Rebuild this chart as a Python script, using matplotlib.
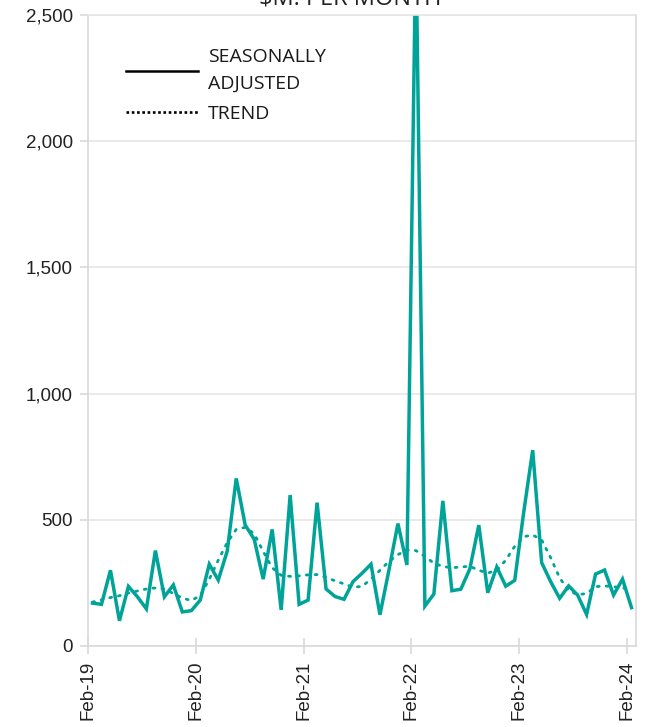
#!/usr/bin/env python3

import matplotlib.pyplot as plt
from matplotlib.lines import Line2D
import numpy as np

tick_labels = ['Feb-19', 'Feb-20', 'Feb-21', 'Feb-22', 'Feb-23', 'Feb-24']

# $M per month, monthly Feb-19 .. Feb-24
seasonally_adjusted = [
    170, 165, 300, 100, 236, 195, 147, 378, 195, 242, 135, 140,
    182, 324, 261, 376, 664, 479, 423, 265, 462, 143, 598, 165,
    182, 568, 226, 196, 185, 255, 288, 324, 124, 301, 485, 321,
    2800, 158, 206, 575, 219, 225, 305, 479, 211, 313, 237, 260,
    530, 776, 330, 255, 189, 238, 202, 125, 285, 301, 202, 265,
    152,
]

trend = [
    174, 183, 192, 199, 210, 218, 226, 230, 226, 208, 190, 180,
    200, 265, 340, 410, 462, 470, 445, 375, 310, 280, 276, 278,
    282, 283, 272, 258, 246, 233, 236, 265, 300, 335, 362, 380,
    378, 355, 328, 315, 310, 313, 316, 300, 289, 300, 340, 395,
    433, 440, 420, 350, 270, 220, 203, 208, 235, 238, 235, 230,
    224,
]

teal = '#00a398'
grey = '#d9d9d9'

x = np.arange(len(seasonally_adjusted))

figure = plt.figure(figsize=(6.54, 7.27), dpi=100)
ax = figure.add_axes([88 / 654, 1 - 646 / 727, 548 / 654, 631 / 727])

ax.plot(x, seasonally_adjusted, color=teal, lw=2.5, solid_joinstyle='miter')
ax.plot(x, trend, color=teal, lw=2.0, linestyle=(0, (0.7, 2.5)),
        dash_capstyle='round')

ax.set_xlim(-0.5, 60.5)
ax.set_ylim(0, 2500)
ax.set_yticks(np.arange(0, 2501, 500))
ax.set_yticklabels(['{:,}'.format(v) for v in range(0, 2501, 500)])
ax.set_xticks(np.arange(-0.5, 61, 12))
ax.set_xticklabels(tick_labels, rotation=90)

ax.grid(axis='y', color='#e6e6e6', lw=1.2)
ax.set_axisbelow(True)
for side in ['left', 'bottom', 'right', 'top']:
    ax.spines[side].set_color(grey)
    ax.spines[side].set_linewidth(1.2)
ax.spines['top'].set_color('#e6e6e6')

ax.tick_params(axis='y', length=6, width=1.2, color=grey, pad=5,
               labelsize=13.5, labelcolor='#222222')
ax.tick_params(axis='x', direction='inout', length=11, width=1.2,
               color=grey, pad=5, labelsize=13.5, labelcolor='#222222')
for label in ax.get_xticklabels() + ax.get_yticklabels():
    label.set_fontfamily('Liberation Sans')

handles = [Line2D([], [], color='black', lw=1.8),
           Line2D([], [], color='black', lw=1.9, linestyle=(0, (1, 1)))]
legend = ax.legend(handles, ['SEASONALLY\nADJUSTED', 'TREND'],
                   loc='upper left', bbox_to_anchor=(0.069, 0.947),
                   frameon=False, handlelength=3.7, handletextpad=0.52,
                   labelspacing=0.6, borderpad=0, borderaxespad=0,
                   prop=dict(family='Open Sans', size=14))
for text in legend.get_texts():
    text.set_linespacing(1.6)
    text.set_color('#1a1a1a')

figure.text(0.535, 1 - 5 / 727, r'\$M. PER MONTH', ha='center',
            va='baseline', fontsize=17, family='Open Sans', color='#222222')

figure.savefig('out.png', dpi=100)
